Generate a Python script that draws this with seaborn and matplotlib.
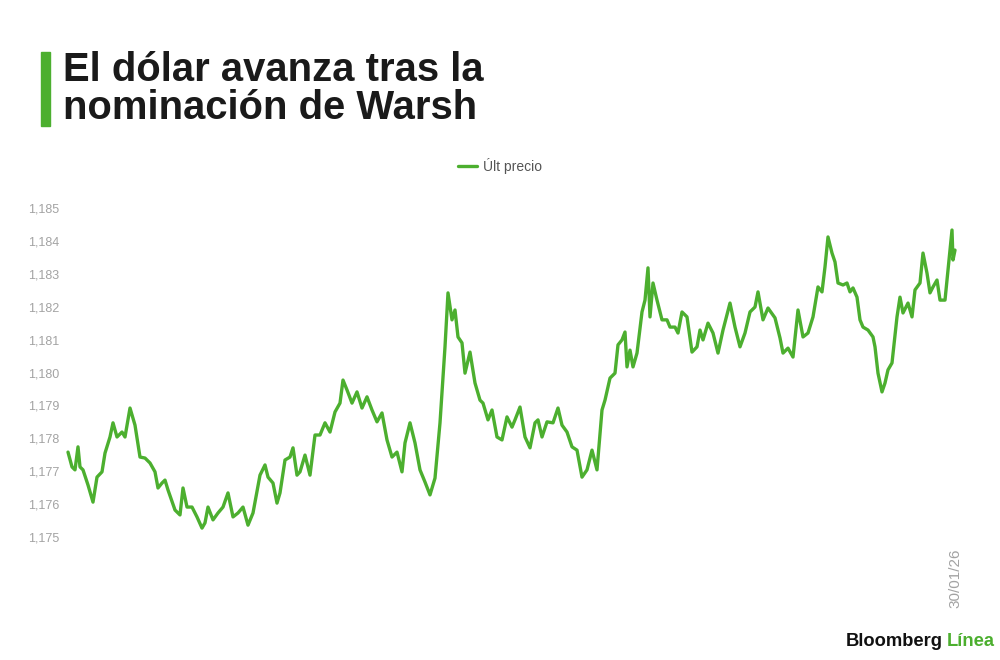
import matplotlib
matplotlib.use("Agg")
import matplotlib.pyplot as plt
import seaborn as sns
import pandas as pd
from matplotlib.ticker import FuncFormatter

paso_1 = [0, 4, 7, 10, 12, 15, 20, 25, 29, 34, 37, 42, 45, 49, 54, 57, 62, 67, 72, 77,
          82, 87, 90, 94, 97, 100, 107, 112, 115, 119, 124, 129, 134, 137, 140, 145, 150,
          155, 160, 165, 170, 175, 180, 185, 192, 197, 200, 205, 209, 212, 217, 222]
precio_1 = [1177.58, 1177.13, 1177.04, 1177.74, 1177.13, 1177.04, 1176.58, 1176.06, 1176.82,
            1176.98, 1177.55, 1178.04, 1178.47, 1178.04, 1178.19, 1178.04, 1178.92, 1178.40,
            1177.43, 1177.40, 1177.25, 1176.98, 1176.49, 1176.64, 1176.73, 1176.43, 1175.82,
            1175.67, 1176.49, 1175.91, 1175.91, 1175.61, 1175.27, 1175.43, 1175.91, 1175.52,
            1175.73, 1175.91, 1176.34, 1175.61, 1175.73, 1175.91, 1175.36, 1175.73, 1176.88,
            1177.19, 1176.82, 1176.64, 1176.03, 1176.34, 1177.34, 1177.43]

paso_2 = [225, 229, 232, 237, 242, 247, 252, 257, 262, 267, 272, 275, 279, 284, 289, 294,
          299, 304, 309, 314, 319, 324, 329, 334, 337, 342, 347, 352, 357, 362, 367, 372,
          377, 380, 384, 387, 390, 394, 397, 402, 407, 412]
precio_2 = [1177.71, 1176.88, 1176.98, 1177.49, 1176.88, 1178.10, 1178.10, 1178.47, 1178.19,
            1178.80, 1179.07, 1179.77, 1179.47, 1179.07, 1179.41, 1178.92, 1179.26, 1178.86,
            1178.50, 1178.77, 1177.95, 1177.43, 1177.58, 1176.98, 1177.86, 1178.47, 1177.86,
            1177.04, 1176.67, 1176.28, 1176.79, 1178.47, 1180.78, 1182.42, 1181.60, 1181.90,
            1181.08, 1180.90, 1179.98, 1180.62, 1179.68, 1179.16]

paso_3 = [415, 420, 424, 429, 434, 439, 444, 447, 452, 457, 462, 467, 470, 474, 479, 485,
          490, 494, 499, 504, 509, 514, 519, 524, 529, 534, 537, 542, 547, 550, 554, 557,
          559, 562, 565, 569, 574, 577, 580, 582, 585, 589, 594, 599, 602]
precio_3 = [1179.07, 1178.56, 1178.86, 1178.04, 1177.95, 1178.65, 1178.34, 1178.56, 1178.95,
            1178.04, 1177.71, 1178.47, 1178.56, 1178.04, 1178.50, 1178.47, 1178.92, 1178.40,
            1178.19, 1177.74, 1177.64, 1176.82, 1177.04, 1177.64, 1177.04, 1178.86, 1179.16,
            1179.83, 1179.98, 1180.84, 1180.99, 1181.23, 1180.17, 1180.68, 1180.17, 1180.59,
            1181.84, 1182.20, 1183.18, 1181.69, 1182.72, 1182.20, 1181.60, 1181.60, 1181.38]

paso_4 = [607, 610, 614, 619, 624, 629, 632, 635, 640, 645, 650, 655, 662, 667, 672, 677,
          682, 687, 690, 695, 700, 707, 712, 715, 720, 725, 730, 735, 740, 745, 750, 754,
          757, 760]
precio_4 = [1181.38, 1181.20, 1181.84, 1181.69, 1180.62, 1180.78, 1181.29, 1180.99, 1181.50,
            1181.20, 1180.59, 1181.29, 1182.11, 1181.38, 1180.78, 1181.20, 1181.84, 1181.99,
            1182.45, 1181.60, 1181.96, 1181.66, 1181.05, 1180.59, 1180.74, 1180.47, 1181.90,
            1181.08, 1181.20, 1181.69, 1182.60, 1182.45, 1183.21, 1184.12]

paso_5 = [764, 767, 770, 775, 779, 782, 785, 789, 792, 795, 800, 805, 807, 810, 814, 817,
          820, 824, 829, 832, 835, 840, 844, 847, 852, 855, 859, 862, 865, 869, 872, 877,
          880, 884, 885, 887]
precio_5 = [1183.63, 1183.36, 1182.72, 1182.66, 1182.72, 1182.45, 1182.57, 1182.29, 1181.60,
            1181.38, 1181.29, 1181.08, 1180.78, 1179.98, 1179.41, 1179.68, 1180.08, 1180.29,
            1181.69, 1182.29, 1181.81, 1182.11, 1181.69, 1182.51, 1182.72, 1183.63, 1183.02,
            1182.42, 1182.60, 1182.81, 1182.20, 1182.20, 1183.12, 1184.33, 1183.42, 1183.72]

yticks = [1.175, 1.176, 1.177, 1.178, 1.179, 1.180, 1.181, 1.182, 1.183, 1.184, 1.185]
fecha_final = "30/01/26"

verde = "#4caf2f"
gris = "#a3a3a3"

df = pd.DataFrame({
    "paso": paso_1 + paso_2 + paso_3 + paso_4 + paso_5,
    "precio": [p / 1000 for p in precio_1 + precio_2 + precio_3 + precio_4 + precio_5],
})

sns.set_style("white")
plt.rcParams["font.family"] = ["Liberation Sans", "DejaVu Sans"]

fig = plt.figure(figsize=(10, 6.6), dpi=100)
ax = fig.add_axes([0.068, 123 / 660, 0.887, 329 / 660])

sns.lineplot(data=df, x="paso", y="precio", ax=ax, color=verde, linewidth=2.4,
             label="Últ precio")

ax.set_ylim(1.175, 1.185)
ax.set_xlim(df["paso"].min(), df["paso"].max())
ax.set_yticks(yticks)
ax.yaxis.set_major_formatter(FuncFormatter(lambda v, p: f"{v:.3f}".replace(".", ",")))
ax.set_xticks([df["paso"].max()])
ax.set_xticklabels([fecha_final], rotation=90)
ax.tick_params(axis="both", length=0, labelcolor=gris)
ax.tick_params(axis="y", pad=6, labelsize=9)
ax.tick_params(axis="x", pad=8, labelsize=11)
ax.set_xlabel("")
ax.set_ylabel("")
for s in ax.spines.values():
    s.set_visible(False)
for ln in ax.lines:
    ln.set_clip_on(False)

leg = ax.legend(loc="center", bbox_to_anchor=(0.5, 1 - 166 / 660), bbox_transform=fig.transFigure,
                frameon=False, fontsize=10, handlelength=1.4, handletextpad=0.4)
for t in leg.get_texts():
    t.set_color("#555555")

# title with green bar
fig.patches.append(plt.Rectangle((41 / 1000, 1 - 126 / 660), 9 / 1000, 74 / 660,
                                 transform=fig.transFigure, color=verde))
fig.text(0.063, 1 - 89 / 660, "El dólar avanza tras la\nnominación de Warsh",
         fontsize=28.8, fontweight="bold", color="#1a1a1a", ha="left", va="center",
         linespacing=0.98)

# brand
t1 = fig.text(0.846, 1 - 646 / 660, "Bloomberg", fontsize=13.2, fontweight="bold",
              color="#111111", ha="left", va="baseline")
ax.annotate("Línea", xy=(1, 0), xycoords=t1, xytext=(3, 0), textcoords="offset points",
            fontsize=13.2, fontweight="bold", color=verde, ha="left", va="bottom")

fig.savefig("out.png", dpi=100)
